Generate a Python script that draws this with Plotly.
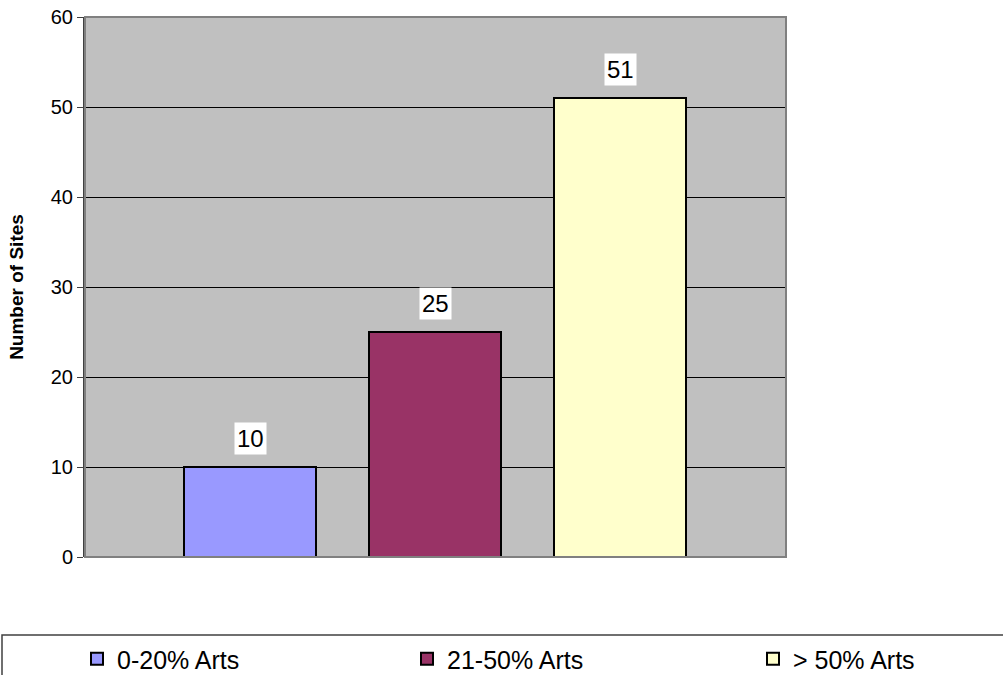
import plotly.graph_objects as go

series_names = ["0-20% Arts", "21-50% Arts", "> 50% Arts"]
site_counts = [10, 25, 51]
bar_colors = ["#9999FF", "#993366", "#FFFFCC"]
y_ticks = [0, 10, 20, 30, 40, 50, 60]
y_title = "Number of Sites"

FONT = "Liberation Sans, Arial, sans-serif"

W, H = 1003, 675
L, T = 85, 17
R = W - 786
B = H - 557
pw = W - L - R
ph = H - T - B

# x scale: bar centres 185 px apart, first centre 165 px from left edge
unit = 185.0
x_lo = -(165.0) / unit
x_hi = x_lo + pw / unit
bar_w = 132.0 / unit

legend_ids = ["legend", "legend2", "legend3"]
legend_left_px = [77, 407, 753]

def px_to_paper_x(px):
    return (px - L) / pw

def px_to_paper_y(py):
    return (H - B - py) / ph

fig = go.Figure()
for i, (name, val, col) in enumerate(zip(series_names, site_counts, bar_colors)):
    fig.add_trace(go.Bar(
        x=[i], y=[val], name=name, width=bar_w,
        marker=dict(color=col, line=dict(color="#000000", width=2)),
        hoverinfo="skip", legend=legend_ids[i],
    ))
    fig.add_annotation(
        x=i, y=val, text=str(val), showarrow=False,
        yanchor="bottom", yshift=12,
        font=dict(family=FONT, size=24, color="#000000"),
        bgcolor="#FFFFFF", borderpad=2,
    )

# plot-area border (gray)
fig.add_shape(type="rect", xref="paper", yref="paper", x0=0, x1=1, y0=0, y1=1,
              line=dict(color="#808080", width=2), layer="above")
# legend frame
fig.add_shape(type="rect", xref="paper", yref="paper",
              x0=px_to_paper_x(2), x1=px_to_paper_x(1030),
              y0=px_to_paper_y(720), y1=px_to_paper_y(635),
              line=dict(color="#404040", width=1.5))

legend_style = dict(
    orientation="h", xanchor="left", yanchor="top",
    y=px_to_paper_y(636),
    font=dict(family=FONT, size=25, color="#000000"),
    bgcolor="rgba(0,0,0,0)", borderwidth=0,
    itemclick=False, itemdoubleclick=False,
)
legends = {}
for lid, lx in zip(legend_ids, legend_left_px):
    legends[lid] = dict(legend_style, x=px_to_paper_x(lx))

fig.update_layout(
    width=W, height=H,
    margin=dict(l=L, r=R, t=T, b=B, autoexpand=False),
    paper_bgcolor="#FFFFFF",
    plot_bgcolor="#C0C0C0",
    font=dict(family=FONT, color="#000000"),
    bargap=0,
    showlegend=True,
    hovermode=False,
    xaxis=dict(
        range=[x_lo, x_hi], showticklabels=False, showgrid=False,
        zeroline=False, ticks="", showline=False, fixedrange=True,
    ),
    yaxis=dict(
        range=[0, 60], tickvals=y_ticks, ticktext=[str(v) for v in y_ticks],
        showgrid=True, gridcolor="#000000", gridwidth=1,
        zeroline=False, showline=True, linecolor="#404040", linewidth=2,
        ticks="outside", ticklen=6, tickcolor="#404040", tickwidth=1,
        tickfont=dict(family=FONT, size=20, color="#000000"),
        ticklabeloverflow="allow",
        title=dict(text="<b>" + y_title + "</b>", standoff=22,
                   font=dict(family=FONT, size=19, color="#000000")),
        fixedrange=True,
    ),
    **legends,
)

fig.write_html(
    "out.html",
    config={"displayModeBar": False, "staticPlot": False},
    post_script="document.body.style.margin='0';document.body.style.overflow='hidden';",
)
